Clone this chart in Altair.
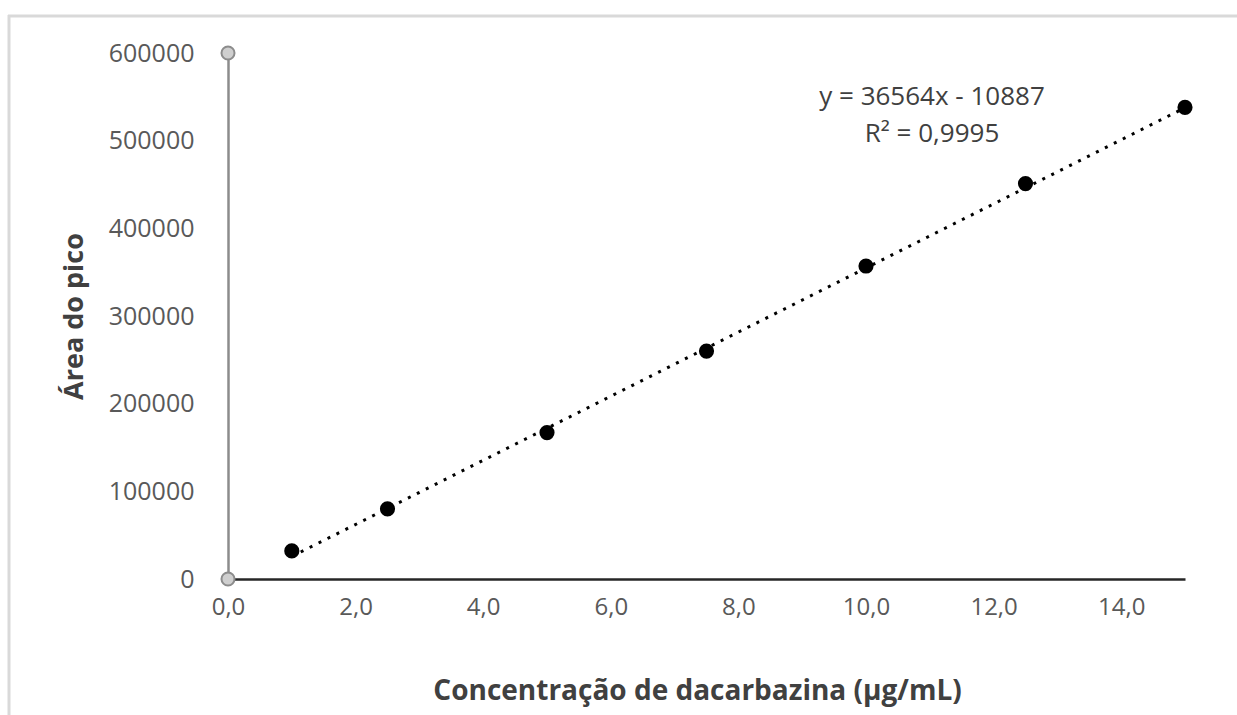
import altair as alt
import pandas as pd

# Data
conc = [1.0, 2.5, 5.0, 7.5, 10.0, 12.5, 15.0]
area = [32000, 80000, 167000, 260000, 357000, 451000, 538000]
slope = 36564
intercept = -10887
eq_lines = ["y = 36564x - 10887", "R² = 0,9995"]
x_ticks = [0, 2, 4, 6, 8, 10, 12, 14]
y_ticks = [0, 100000, 200000, 300000, 400000, 500000, 600000]

df = pd.DataFrame({"x": conc, "y": area})
fit_df = pd.DataFrame({"x": [conc[0], conc[-1]]})
ends_df = pd.DataFrame({"x": [0, 0], "y": [y_ticks[0], y_ticks[-1]]})

FONT = "Open Sans"

xscale = alt.Scale(domain=[0, 15], nice=False, zero=False)
yscale = alt.Scale(domain=[0, 600000], nice=False)

xaxis = alt.Axis(
    values=x_ticks,
    labelExpr="replace(format(datum.value, '.1f'), '.', ',')",
    title="Concentração de dacarbazina (µg/mL)",
    grid=False, ticks=False, labelFlush=False, labelOverlap=False,
    domainColor="#262626", domainWidth=2.5,
    labelFont=FONT, labelFontSize=24, labelColor="#595959", labelPadding=16,
    titleFont=FONT, titleFontSize=28, titleFontWeight="bold", titleColor="#404040",
    titlePadding=58, titleX=469,
)
yaxis = alt.Axis(
    values=y_ticks,
    format="d",
    title="Área do pico",
    grid=False, ticks=False, labelFlush=False, labelOverlap=False,
    domainColor="#8c8c8c", domainWidth=2.5,
    labelFont=FONT, labelFontSize=25, labelColor="#595959", labelPadding=34,
    titleFont=FONT, titleFontSize=27, titleFontWeight="bold", titleColor="#404040",
    titlePadding=20,
)

points = alt.Chart(df).mark_circle(size=230, color="black", opacity=1).encode(
    x=alt.X("x:Q", scale=xscale, axis=xaxis),
    y=alt.Y("y:Q", scale=yscale, axis=yaxis),
)

fit = alt.Chart(fit_df).transform_calculate(
    fit=f"{slope} * datum.x + ({intercept})"
).mark_line(color="black", strokeWidth=3, strokeDash=[3, 7]).encode(
    x=alt.X("x:Q", scale=xscale),
    y=alt.Y("fit:Q", scale=yscale),
)

ends = alt.Chart(ends_df).mark_point(
    shape="circle", size=170, filled=True, fill="#cfcfcf", stroke="#8c8c8c",
    strokeWidth=2, opacity=1
).encode(
    x=alt.X("x:Q", scale=xscale),
    y=alt.Y("y:Q", scale=yscale),
)

eq = alt.Chart(pd.DataFrame({"t": [0]})).mark_text(
    font=FONT, fontSize=26, color="#404040", align="center", baseline="middle",
    lineHeight=37,
).encode(
    x=alt.value(704), y=alt.value(44), text=alt.value(eq_lines)
)

border_top = alt.Chart(pd.DataFrame({"t": [0]})).mark_rule(
    color="#d9d9d9", strokeWidth=3
).encode(x=alt.value(-220), x2=alt.value(1010), y=alt.value(-37))
border_left = alt.Chart(pd.DataFrame({"t": [0]})).mark_rule(
    color="#d9d9d9", strokeWidth=3
).encode(x=alt.value(-219), y=alt.value(-38), y2=alt.value(662))

chart = alt.layer(border_top, border_left, fit, points, ends, eq).properties(
    width=957, height=526,
    autosize=alt.AutoSizeParams(type="none"),
    padding={"left": 228, "top": 53, "right": 52, "bottom": 136},
    background="white",
).configure_view(stroke=None)

chart.save("out.html", embed_options={"renderer": "svg", "actions": False})
